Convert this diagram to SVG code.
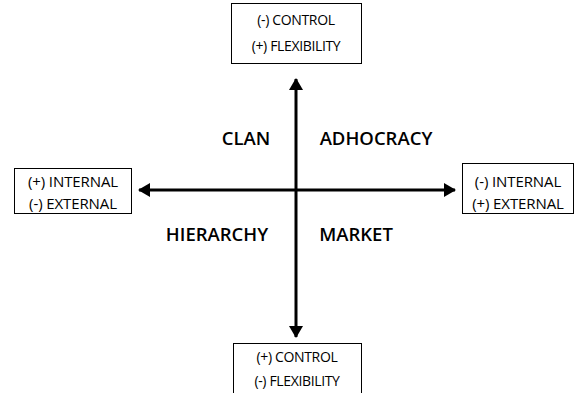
<svg xmlns="http://www.w3.org/2000/svg" width="575" height="393" viewBox="0 0 575 393">
<style>
.box{fill:#fff;stroke:#000;stroke-width:1}
.bt{font-family:"Open Sans","DejaVu Sans",sans-serif;font-size:14px;letter-spacing:-0.35px;fill:#000;text-anchor:middle}
.bs{font-family:"Open Sans","DejaVu Sans",sans-serif;font-size:15px;letter-spacing:-0.1px;fill:#000;text-anchor:middle}
.lbl{font-family:"Open Sans","DejaVu Sans",sans-serif;font-size:18.5px;font-weight:600;fill:#000;text-anchor:middle}
.ax{stroke:#000;stroke-width:3;fill:none}
</style>
<defs>
<marker id="ah" markerUnits="userSpaceOnUse" markerWidth="12" markerHeight="14" refX="11" refY="7" orient="auto">
<path d="M0,0 L12,7 L0,14 Z" fill="#000"/>
</marker>
</defs>
<rect width="575" height="393" fill="#fff"/>
<g id="connectors">
<line class="ax" x1="296" y1="190" x2="296" y2="79" marker-end="url(#ah)"/>
<line class="ax" x1="296" y1="190" x2="296" y2="337" marker-end="url(#ah)"/>
<line class="ax" x1="296" y1="190" x2="139" y2="190" marker-end="url(#ah)"/>
<line class="ax" x1="296" y1="190" x2="455" y2="190" marker-end="url(#ah)"/>
</g>
<g id="top">
<rect class="box" x="231.5" y="3.5" width="130" height="60"/>
<text class="bt" x="296" y="25">(-) CONTROL</text>
<text class="bt" x="296" y="51">(+) FLEXIBILITY</text>
</g>
<g id="bottom">
<rect class="box" x="233.5" y="343.5" width="128" height="60"/>
<text class="bt" x="297" y="362">(+) CONTROL</text>
<text class="bt" x="297" y="386">(-) FLEXIBILITY</text>
</g>
<g id="left">
<rect class="box" x="14.5" y="168.5" width="117" height="45"/>
<text class="bs" x="73" y="187">(+) INTERNAL</text>
<text class="bs" x="73" y="209">(-) EXTERNAL</text>
</g>
<g id="right">
<rect class="box" x="462.5" y="163.5" width="111" height="50"/>
<text class="bs" x="518" y="187">(-) INTERNAL</text>
<text class="bs" x="518" y="209">(+) EXTERNAL</text>
</g>
<g id="clan"><text class="lbl" x="246" y="145">CLAN</text></g>
<g id="adhocracy"><text class="lbl" x="376" y="145">ADHOCRACY</text></g>
<g id="hierarchy"><text class="lbl" x="217" y="241">HIERARCHY</text></g>
<g id="market"><text class="lbl" x="356" y="241">MARKET</text></g>
</svg>
